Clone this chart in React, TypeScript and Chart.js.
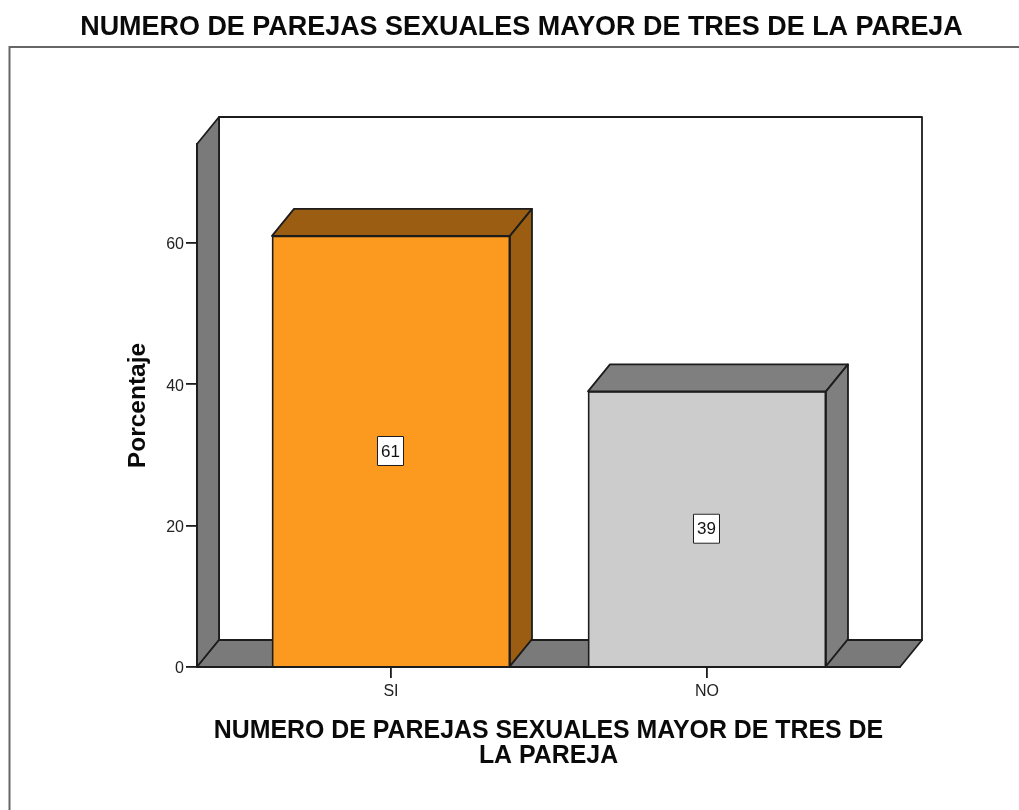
import React, { useEffect, useRef } from "react";
import { Chart, registerables } from "chart.js";

Chart.register(...registerables);

const mainTitle = "NUMERO DE PAREJAS SEXUALES MAYOR DE TRES DE LA PAREJA";
const xTitleLines = ["NUMERO DE PAREJAS SEXUALES MAYOR DE TRES DE", "LA PAREJA"];
const yTitle = "Porcentaje";
const categories = ["SI", "NO"];
const percentages = [61, 39];
const yTicks = [0, 20, 40, 60];
const frontColors = ["#FB9A1E", "#CCCCCC"];
const depthColors = ["#9A5D12", "#7F7F7F"];

const WALL = "#7A7A7A";
const LINE = "#1C1C1C";
const DEPTH_X = 22;
const DEPTH_Y = -27;
const FONT = "'Liberation Sans', Arial, sans-serif";

function poly(ctx: CanvasRenderingContext2D, pts: number[][], fill: string, lw = 1.8) {
  ctx.beginPath();
  pts.forEach(([x, y], i) => (i ? ctx.lineTo(x, y) : ctx.moveTo(x, y)));
  ctx.closePath();
  ctx.fillStyle = fill;
  ctx.fill();
  ctx.lineWidth = lw;
  ctx.strokeStyle = LINE;
  ctx.lineJoin = "round";
  ctx.stroke();
}

const frame3d = {
  id: "frame3d",
  beforeDraw(chart: any) {
    const { ctx, chartArea: a } = chart;
    // the page title spans the whole frame, not the plot column
    chart.titleBlock.left = 24;
    chart.titleBlock.right = chart.width;
    ctx.save();
    ctx.fillStyle = "#FFFFFF";
    ctx.fillRect(0, 0, chart.width, chart.height);
    ctx.strokeStyle = "#666666";
    ctx.lineWidth = 2;
    ctx.beginPath();
    ctx.moveTo(9.5, chart.height);
    ctx.lineTo(9.5, 47);
    ctx.lineTo(chart.width, 47);
    ctx.stroke();
    const { left: l, right: r, top: t, bottom: b } = a;
    poly(ctx, [[l + DEPTH_X, t + DEPTH_Y], [r + DEPTH_X, t + DEPTH_Y], [r + DEPTH_X, b + DEPTH_Y], [l + DEPTH_X, b + DEPTH_Y]], "#FFFFFF");
    poly(ctx, [[l, t], [l + DEPTH_X, t + DEPTH_Y], [l + DEPTH_X, b + DEPTH_Y], [l, b]], WALL);
    poly(ctx, [[l, b], [l + DEPTH_X, b + DEPTH_Y], [r + DEPTH_X, b + DEPTH_Y], [r, b]], WALL);
    ctx.restore();
  },
  afterDatasetsDraw(chart: any) {
    const { ctx } = chart;
    const bars = chart.getDatasetMeta(0).data;
    ctx.save();
    bars.forEach((bar: any, i: number) => {
      const p = bar.getProps(["x", "y", "base", "width"], true);
      const l = p.x - p.width / 2;
      const r = p.x + p.width / 2;
      poly(ctx, [[l, p.y], [l + DEPTH_X, p.y + DEPTH_Y], [r + DEPTH_X, p.y + DEPTH_Y], [r, p.y]], depthColors[i]);
      poly(ctx, [[r, p.y], [r + DEPTH_X, p.y + DEPTH_Y], [r + DEPTH_X, p.base + DEPTH_Y], [r, p.base]], depthColors[i]);
      const cy = (p.y + p.base) / 2;
      const text = String(percentages[i]);
      ctx.fillStyle = "#FFFFFF";
      ctx.fillRect(p.x - 14, cy - 15, 27, 30);
      ctx.strokeStyle = LINE;
      ctx.lineWidth = 1;
      ctx.strokeRect(p.x - 14 + 0.5, cy - 15 + 0.5, 26, 29);
      ctx.fillStyle = "#111111";
      ctx.font = `17px ${FONT}`;
      ctx.textAlign = "center";
      ctx.textBaseline = "middle";
      ctx.fillText(text, p.x - 0.5, cy + 1);
    });
    ctx.restore();
  },
};

export default function App() {
  const ref = useRef<HTMLCanvasElement>(null);
  useEffect(() => {
    const chart = new Chart(ref.current as HTMLCanvasElement, {
      type: "bar",
      data: {
        datasets: [
          {
            data: categories.map((_, i) => ({ x: i, y: percentages[i] })) as any,
            backgroundColor: frontColors,
            borderColor: LINE,
            borderWidth: 1.8,
            barThickness: 238,
          },
        ],
      },
      options: {
        responsive: false,
        animation: false,
        layout: { padding: { left: 120, right: 119, top: 0, bottom: 41 } },
        plugins: {
          legend: { display: false },
          tooltip: { enabled: false },
          title: {
            display: true,
            text: mainTitle,
            color: "#0A0A0A",
            font: { family: FONT, size: 26.95, weight: "bold", lineHeight: 1.2 },
            padding: { top: 11, bottom: 100.66 },
          },
        },
        scales: {
          x: {
            type: "linear",
            offset: false,
            min: -0.6139,
            max: 1.6108,
            afterBuildTicks: (axis: any) => {
              axis.ticks = categories.map((_, i) => ({ value: i }));
            },
            afterFit: (axis: any) => {
              axis.height = 102;
            },
            ticks: {
              autoSkip: false,
              maxRotation: 0,
              padding: 4,
              color: "#222222",
              font: { family: FONT, size: 16 },
              callback: (v: any) => categories[v],
            },
            grid: { offset: false, drawOnChartArea: false, drawTicks: true, tickLength: 11, color: LINE, lineWidth: 1.8 },
            border: { display: true, color: LINE, width: 1.8 },
            title: {
              display: true,
              text: xTitleLines,
              color: "#0A0A0A",
              font: { family: FONT, size: 24.9, weight: "bold", lineHeight: 25 / 24.9 },
              padding: 0,
            },
          },
          y: {
            type: "linear",
            min: 0,
            max: 74,
            afterBuildTicks: (axis: any) => {
              axis.ticks = yTicks.map((value) => ({ value }));
            },
            afterFit: (axis: any) => {
              axis.width = 77;
            },
            ticks: {
              padding: 2,
              labelOffset: 2,
              color: "#222222",
              font: { family: FONT, size: 16 },
            },
            grid: { drawOnChartArea: false, drawTicks: true, tickLength: 11, color: LINE, lineWidth: 1.8 },
            border: { display: true, color: LINE, width: 1.8 },
            title: {
              display: true,
              text: yTitle,
              color: "#0A0A0A",
              font: { family: FONT, size: 24.5, weight: "bold", lineHeight: 1.2 },
              padding: { top: 3.5, bottom: 0 },
            },
          },
        },
      },
      plugins: [frame3d],
    } as any);
    return () => chart.destroy();
  }, []);
  return (
    <canvas
      ref={ref}
      width={1019}
      height={810}
      style={{ position: "absolute", left: 0, top: 0, display: "block" }}
    />
  );
}
